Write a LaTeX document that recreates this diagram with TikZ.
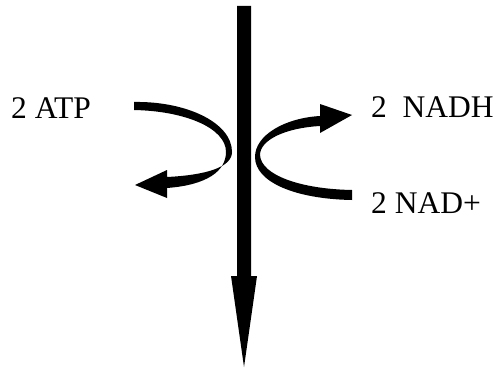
\documentclass[tikz,border=0pt]{standalone}
\usepackage{fontspec}
\setmainfont{Liberation Serif}
\begin{document}
\begin{tikzpicture}[x=1pt,y=-1pt,
  lbl/.style={inner sep=0pt,anchor=base west,font=\fontsize{31.5}{37}\selectfont},
  ink/.style={fill=black}]
\useasboundingbox (0,0) rectangle (500,369);
% main vertical arrow
\fill[ink] (237,6) -- (251,6) -- (251,276) -- (257,276) -- (244,367) -- (231,276) -- (237,276) -- cycle;
% left curved arrow (ATP)
\fill[ink] (134,102) .. controls (185,101) and (232,122) .. (232,152)
  .. controls (232,167) and (207,175) .. (167,177) -- (167,170) -- (135,185) -- (167,198) -- (167,188)
  .. controls (207,185) and (226,171) .. (226,152)
  .. controls (226,128) and (185,111) .. (134,110) -- cycle;
% right curved arrow (NAD+ -> NADH)
\fill[ink] (320,116) .. controls (285,118) and (255,135) .. (255,157)
  .. controls (255,182) and (295,199) .. (352,200) -- (352,190)
  .. controls (300,189) and (261,175) .. (260,155)
  .. controls (260,140) and (285,128) .. (320,126) -- (320,133) -- (352,115) -- (320,104) -- cycle;
% labels
\node[lbl] (atp) at (11,118) {2 ATP};
\node[lbl] (nadh) at (371,117) {2~~NADH};
\node[lbl] (nad) at (371,213) {2 NAD+};
\end{tikzpicture}
\end{document}
